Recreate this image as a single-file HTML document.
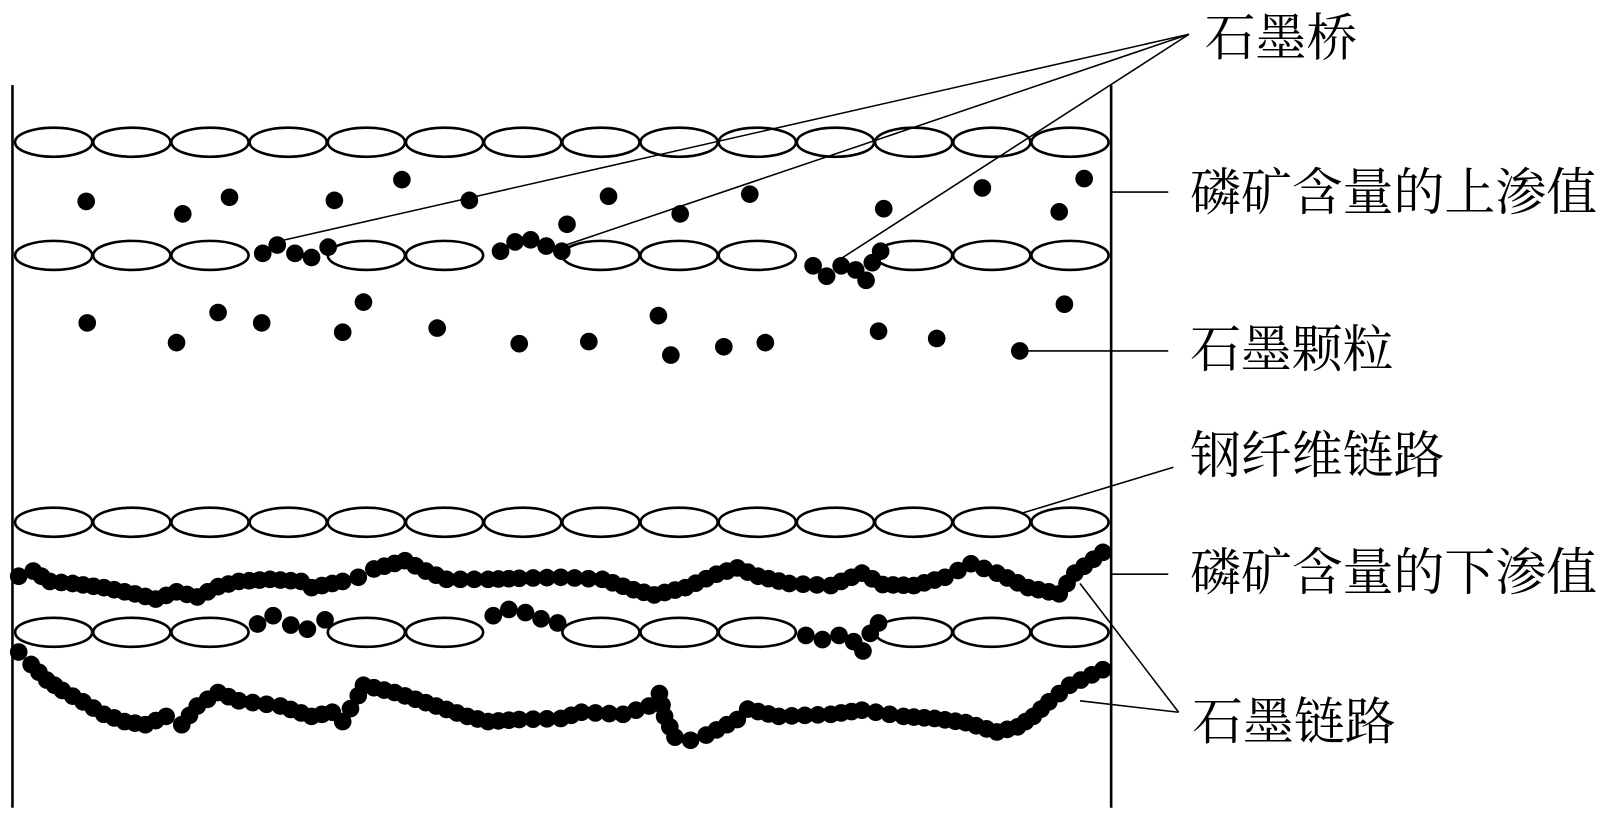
<!DOCTYPE html>
<html><head><meta charset="utf-8">
<style>
html,body{margin:0;padding:0;background:#fff;}
svg{display:block;}
text{font-family:"Liberation Serif","Noto Serif CJK SC",serif;font-size:49px;fill:#000;dominant-baseline:central;}
</style></head>
<body>
<svg id="s" width="1620" height="814" viewBox="0 0 1560 784" preserveAspectRatio="none" xmlns="http://www.w3.org/2000/svg">
<rect width="1560" height="784" fill="#fff"/>
<g stroke="#000" stroke-width="2.5">
<line x1="12" y1="82" x2="12" y2="778"/>
<line x1="1070" y1="82" x2="1070" y2="778"/>
</g>
<g id="ell" fill="none" stroke="#000" stroke-width="2.5"></g>
<g id="dots" fill="#000"></g>
<g stroke="#000" stroke-width="1.5" fill="none">
<line x1="1145" y1="33" x2="270" y2="232"/>
<line x1="1145" y1="33" x2="545" y2="236"/>
<line x1="1145" y1="33" x2="810" y2="249"/>
<line x1="1070" y1="185" x2="1125" y2="185"/>
<line x1="982" y1="338" x2="1125" y2="338"/>
<line x1="985" y1="494" x2="1130" y2="450"/>
<line x1="1070" y1="553" x2="1125" y2="553"/>
<line x1="1135" y1="686" x2="1040" y2="562"/>
<line x1="1135" y1="686" x2="1040" y2="675"/>
</g>
<text x="1160" y="38">石墨桥</text>
<text x="1146" y="187">磷矿含量的上渗值</text>
<text x="1146" y="338">石墨颗粒</text>
<text x="1146" y="440">钢纤维链路</text>
<text x="1146" y="553">磷矿含量的下渗值</text>
<text x="1148" y="697">石墨链路</text>
</svg>
<script>
var NS="http://www.w3.org/2000/svg";
var ell=document.getElementById('ell'),dg=document.getElementById('dots');
var w=(1068-14)/14;
function row(y,skip){for(var i=0;i<14;i++){if(skip.indexOf(i)>=0)continue;var e=document.createElementNS(NS,'ellipse');e.setAttribute('cx',14+w*i+w/2);e.setAttribute('cy',y);e.setAttribute('rx',w/2-0.5);e.setAttribute('ry',14);ell.appendChild(e);}}
row(137,[]);row(246,[3,6,10]);row(503,[]);row(609,[3,6,10]);
function dot(x,y,r){var c=document.createElementNS(NS,'circle');c.setAttribute('cx',x);c.setAttribute('cy',y);c.setAttribute('r',r||8);dg.appendChild(c);}
var pts=[[83,194],[176,206],[221,190],[322,193],[387,173],[452,193],[546,216],[586,189],[655,206],[722,187],[851,201],[946,181],[1020,204],[1044,172],
[84,311],[170,330],[210,301],[252,311],[330,320],[350,291],[421,316],[500,331],[567,329],[634,304],[646,342],[697,334],[737,330],[846,319],[902,326],[982,338],[1025,293],
[253,244],[267,236],[284,244],[300,248],[316,238],[482,242],[496,233],[511,231],[526,237],[541,242],[783,256],[796,266],[810,256],[824,260],[834,270],[840,253],[848,242],
[248,601],[263,593],[280,602],[296,606],[313,597],[475,593],[490,587],[506,590],[521,596],[537,600],[776,612],[792,616],[808,612],[822,618],[831,627],[838,610],[846,600]];
pts.forEach(function(p){dot(p[0],p[1],8.5);});
function chain(a){for(var i=0;i<a.length-1;i++){var x0=a[i][0],y0=a[i][1],x1=a[i+1][0],y1=a[i+1][1];var d=Math.hypot(x1-x0,y1-y0);var n=Math.max(1,Math.round(d/12));for(var k=0;k<n;k++){dot(x0+(x1-x0)*k/n,y0+(y1-y0)*k/n,8.5);}}var l=a[a.length-1];dot(l[0],l[1],8.5);}
chain([[18,555],[32,550],[48,560],[70,562],[100,566],[130,572],[150,577],[170,570],[190,575],[210,565],[230,560],[260,558],[290,560],[300,566],[330,560],[345,556],[360,548],[390,540],[410,550],[430,558],[470,558],[500,557],[540,556],[580,558],[610,568],[630,573],[660,566],[690,553],[710,547],[730,555],[760,562],[800,564],[830,552],[850,563],[880,564],[910,556],[935,543],[960,552],[990,566],[1020,572],[1035,552],[1062,532]]);
chain([[18,628],[30,640],[45,655],[60,665],[80,676],[100,688],[120,695],[140,698],[160,690],[175,698],[190,680],[210,667],[230,675],[270,680],[300,690],[320,686],[330,695],[345,670],[350,660],[380,667],[420,680],[450,690],[470,695],[500,693],[540,692],[560,686],[600,688],[625,680],[635,668],[640,690],[650,710],[665,713],[680,708],[710,693],[720,683],[750,690],[800,688],[830,684],[870,690],[900,692],[930,696],[960,705],[980,700],[995,690],[1010,676],[1030,660],[1062,645]]);
</script>
</body></html>
